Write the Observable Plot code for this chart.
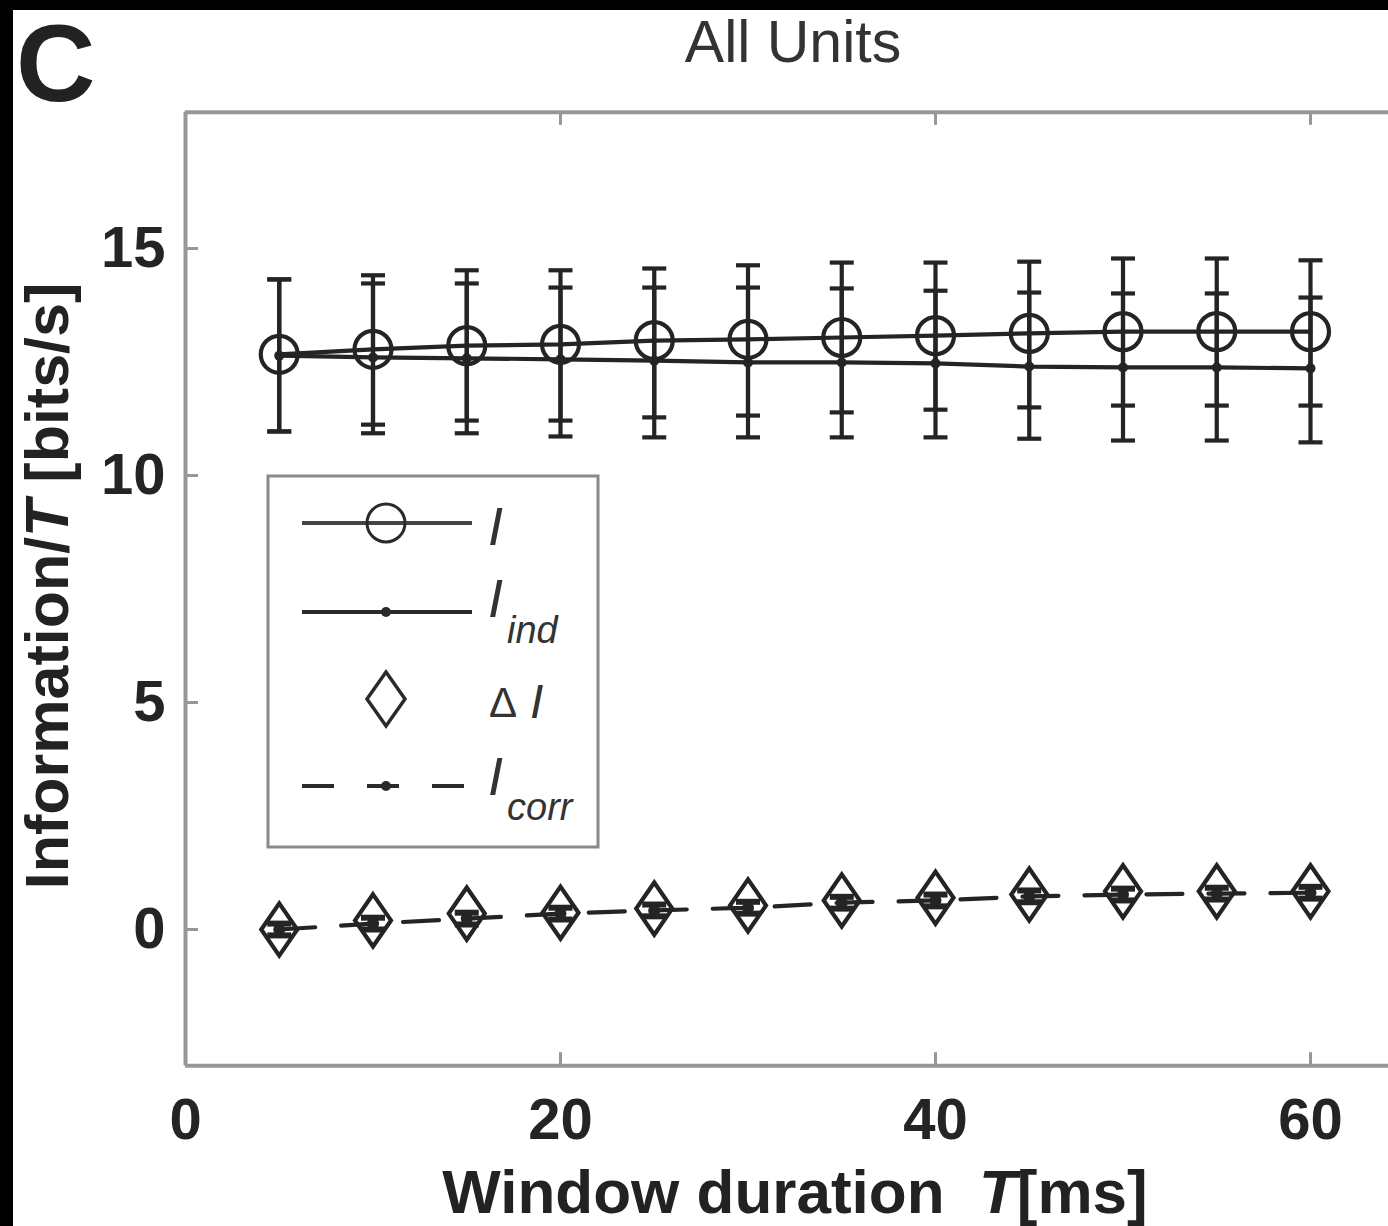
<!DOCTYPE html>
<html><head><meta charset="utf-8">
<script src="https://cdn.jsdelivr.net/npm/d3@7"></script>
<script src="https://cdn.jsdelivr.net/npm/@observablehq/plot@0.6"></script>
<style>
body{margin:0;background:#fff;width:1388px;height:1226px;overflow:hidden;position:relative;font-family:"Liberation Sans",Arial,sans-serif}
#chart{position:absolute;left:0;top:0}
#overlay{position:absolute;left:0;top:0}
.band{position:absolute;background:#000}
</style></head><body>
<div class="band" style="left:0;top:0;width:1388px;height:10px"></div>
<div class="band" style="left:0;top:0;width:13px;height:1226px"></div>
<div id="chart"></div>
<svg id="overlay" width="1388" height="1226"></svg>
<script>
// ---- data ----
const windowT = [5, 10, 15, 20, 25, 30, 35, 40, 45, 50, 55, 60];
const infoI    = [12.67, 12.78, 12.86, 12.89, 12.97, 13.00, 13.04, 13.08, 13.13, 13.17, 13.17, 13.17];
const infoILo  = [10.97, 11.12, 11.21, 11.21, 11.28, 11.32, 11.39, 11.45, 11.50, 11.54, 11.54, 11.54];
const infoIHi  = [14.32, 14.41, 14.52, 14.52, 14.56, 14.63, 14.69, 14.69, 14.71, 14.78, 14.78, 14.74];
const infoInd   = [12.64, 12.60, 12.58, 12.56, 12.53, 12.49, 12.49, 12.47, 12.40, 12.38, 12.38, 12.36];
const infoIndLo = [10.97, 10.93, 10.93, 10.86, 10.84, 10.84, 10.84, 10.84, 10.81, 10.77, 10.77, 10.73];
const infoIndHi = [14.32, 14.23, 14.23, 14.14, 14.14, 14.14, 14.12, 14.07, 14.03, 14.01, 14.01, 13.92];
const deltaI   = [0.00, 0.20, 0.35, 0.37, 0.46, 0.53, 0.64, 0.70, 0.77, 0.84, 0.84, 0.84];
const infoCorr = [0.00, 0.13, 0.24, 0.35, 0.42, 0.48, 0.59, 0.64, 0.73, 0.77, 0.79, 0.81];
const infoCorrLo = [-0.13, 0.00, 0.11, 0.22, 0.29, 0.35, 0.46, 0.51, 0.60, 0.64, 0.66, 0.68];
const infoCorrHi = [0.13, 0.26, 0.37, 0.48, 0.55, 0.61, 0.72, 0.77, 0.86, 0.90, 0.92, 0.94];
const xTicks = [0, 20, 40, 60];
const yTicks = [0, 5, 10, 15];
const xDomain = [0, 65];
const yDomain = [-3, 18];

const rows = windowT.map((t, i) => ({
  t, I: infoI[i], Ilo: infoILo[i], Ihi: infoIHi[i],
  Ind: infoInd[i], IndLo: infoIndLo[i], IndHi: infoIndHi[i],
  dI: deltaI[i], Icorr: infoCorr[i], cLo: infoCorrLo[i], cHi: infoCorrHi[i]
}));

// ---- layout ----
const W = 1388, H = 1226;
const mL = 185, mT = 111.8, mB = 160.8;
const frameH = H - mT - mB, frameW = W - mL;
const ink = "#242424";
const axisGray = "#979797";

const capSymbol = {draw(ctx, size) { const r = Math.sqrt(size / Math.PI); ctx.moveTo(-r, 0); ctx.lineTo(r, 0); }};
const tallDiamond = {draw(ctx, size) { const r = Math.sqrt(size / Math.PI); const h = r * 1.45;
  ctx.moveTo(0, -h); ctx.lineTo(r, 0); ctx.lineTo(0, h); ctx.lineTo(-r, 0); ctx.closePath(); }};

const lw = 4.2;
const chart = Plot.plot({
  width: W, height: H,
  marginLeft: mL, marginRight: 0, marginTop: mT, marginBottom: mB,
  x: {domain: xDomain, range: [mL, mL + 65 * 18.75]},
  y: {domain: yDomain},
  style: {background: "transparent", overflow: "hidden", fontFamily: "Liberation Sans, Arial, sans-serif"},
  marks: [
    Plot.ruleX([xDomain[0]], {stroke: axisGray, strokeWidth: 4}),
    Plot.ruleY(yDomain, {stroke: axisGray, strokeWidth: 4}),
    Plot.tickX(xTicks, {x: d => d, stroke: axisGray, strokeWidth: 3, insetTop: frameH - 13}),
    Plot.tickX(xTicks, {x: d => d, stroke: axisGray, strokeWidth: 3, insetBottom: frameH - 13}),
    Plot.tickY(yTicks, {y: d => d, stroke: axisGray, strokeWidth: 3, insetRight: frameW - 13}),
    Plot.axisX(xTicks, {anchor: "bottom", tickSize: 0, tickPadding: 32, fontSize: 58, fontWeight: "bold", fill: ink, label: null}),
    Plot.axisY(yTicks, {anchor: "left", tickSize: 0, tickPadding: 20, fontSize: 58, fontWeight: "bold", fill: ink, label: null}),
    // error bars I
    Plot.ruleX(rows, {x: "t", y1: "Ilo", y2: "Ihi", stroke: ink, strokeWidth: lw}),
    Plot.dot(rows, {x: "t", y: "Ihi", symbol: capSymbol, r: 12, stroke: ink, fill: "none", strokeWidth: lw}),
    Plot.dot(rows, {x: "t", y: "Ilo", symbol: capSymbol, r: 12, stroke: ink, fill: "none", strokeWidth: lw}),
    // error bars Iind
    Plot.ruleX(rows, {x: "t", y1: "IndLo", y2: "IndHi", stroke: ink, strokeWidth: lw}),
    Plot.dot(rows, {x: "t", y: "IndHi", symbol: capSymbol, r: 12, stroke: ink, fill: "none", strokeWidth: lw}),
    Plot.dot(rows, {x: "t", y: "IndLo", symbol: capSymbol, r: 12, stroke: ink, fill: "none", strokeWidth: lw}),
    // error bars Icorr
    Plot.ruleX(rows, {x: "t", y1: "cLo", y2: "cHi", stroke: ink, strokeWidth: lw}),
    Plot.dot(rows, {x: "t", y: "cHi", symbol: capSymbol, r: 12, stroke: ink, fill: "none", strokeWidth: 6}),
    Plot.dot(rows, {x: "t", y: "cLo", symbol: capSymbol, r: 12, stroke: ink, fill: "none", strokeWidth: 6}),
    // lines
    Plot.line(rows, {x: "t", y: "I", stroke: ink, strokeWidth: lw}),
    Plot.line(rows, {x: "t", y: "Ind", stroke: ink, strokeWidth: lw}),
    Plot.line(rows, {x: "t", y: "Icorr", stroke: ink, strokeWidth: lw, strokeDasharray: "36,26"}),
    // markers
    Plot.dot(rows, {x: "t", y: "I", r: 18.5, stroke: ink, fill: "none", strokeWidth: lw}),
    Plot.dot(rows, {x: "t", y: "Ind", r: 5, fill: ink, stroke: "none"}),
    Plot.dot(rows, {x: "t", y: "Icorr", r: 6, fill: ink, stroke: "none"}),
    Plot.dot(rows, {x: "t", y: "dI", symbol: tallDiamond, r: 18, stroke: ink, fill: "none", strokeWidth: lw})
  ]
});
document.getElementById("chart").appendChild(chart);

// ---- texts and legend ----
const ov = d3.select("#overlay");
const fam = "Liberation Sans, Arial, sans-serif";
ov.append("text").attr("x", 16).attr("y", 101).attr("font-family", fam).attr("font-size", 110)
  .attr("font-weight", "bold").attr("fill", "#222").text("C");
ov.append("text").attr("x", 793).attr("y", 62).attr("text-anchor", "middle").attr("font-family", fam)
  .attr("font-size", 59).attr("fill", "#333").text("All Units");

const xl = ov.append("text").attr("x", 795).attr("y", 1213).attr("text-anchor", "middle").attr("font-family", fam)
  .attr("font-size", 62).attr("font-weight", "bold").attr("fill", "#222").style("white-space", "pre");
xl.append("tspan").text("Window duration  ");
xl.append("tspan").attr("font-style", "italic").text("T");
xl.append("tspan").text("[ms]");

const yl = ov.append("text").attr("transform", "translate(68,586) rotate(-90)").attr("text-anchor", "middle")
  .attr("font-family", fam).attr("font-size", 61).attr("font-weight", "bold").attr("fill", "#222").style("white-space", "pre");
yl.append("tspan").text("Information/");
yl.append("tspan").attr("font-style", "italic").text("T");
yl.append("tspan").text(" [bits/s]");

const lg = ov.append("g");
lg.append("rect").attr("x", 268).attr("y", 476).attr("width", 330).attr("height", 371)
  .attr("fill", "#fff").attr("stroke", "#8a8a8a").attr("stroke-width", 3);
const legInk = "#2a2a2a";
// row 1: I
lg.append("line").attr("x1", 302).attr("x2", 472).attr("y1", 523).attr("y2", 523).attr("stroke", "#444").attr("stroke-width", lw);
lg.append("circle").attr("cx", 386).attr("cy", 523).attr("r", 19).attr("fill", "none").attr("stroke", legInk).attr("stroke-width", 3);
lg.append("text").attr("x", 488).attr("y", 545).attr("font-family", fam).attr("font-size", 54).attr("font-style", "italic").attr("fill", "#333").text("I");
// row 2: I_ind
lg.append("line").attr("x1", 302).attr("x2", 472).attr("y1", 612).attr("y2", 612).attr("stroke", legInk).attr("stroke-width", lw);
lg.append("circle").attr("cx", 386).attr("cy", 612).attr("r", 5).attr("fill", legInk);
const t2 = lg.append("text").attr("x", 488).attr("y", 617).attr("font-family", fam).attr("font-style", "italic").attr("fill", "#333");
t2.append("tspan").attr("font-size", 54).text("I");
t2.append("tspan").attr("font-size", 38).attr("dy", 26).attr("dx", 4).text("ind");
// row 3: ΔI
lg.append("path").attr("d", "M386,672L405,699L386,726L367,699Z").attr("fill", "none").attr("stroke", legInk).attr("stroke-width", 3.5);
lg.append("text").attr("x", 489).attr("y", 717).attr("font-family", fam).attr("font-size", 42).attr("fill", "#333").text("Δ");
lg.append("text").attr("x", 530).attr("y", 718).attr("font-family", fam).attr("font-size", 48).attr("font-style", "italic").attr("fill", "#333").text("I");
// row 4: I_corr
lg.append("line").attr("x1", 302).attr("x2", 472).attr("y1", 786).attr("y2", 786).attr("stroke", legInk).attr("stroke-width", lw).attr("stroke-dasharray", "32,33");
lg.append("circle").attr("cx", 386).attr("cy", 786).attr("r", 5).attr("fill", legInk);
const t4 = lg.append("text").attr("x", 488).attr("y", 795).attr("font-family", fam).attr("font-style", "italic").attr("fill", "#333");
t4.append("tspan").attr("font-size", 54).text("I");
t4.append("tspan").attr("font-size", 38).attr("dy", 25).attr("dx", 4).text("corr");
</script>
</body></html>
